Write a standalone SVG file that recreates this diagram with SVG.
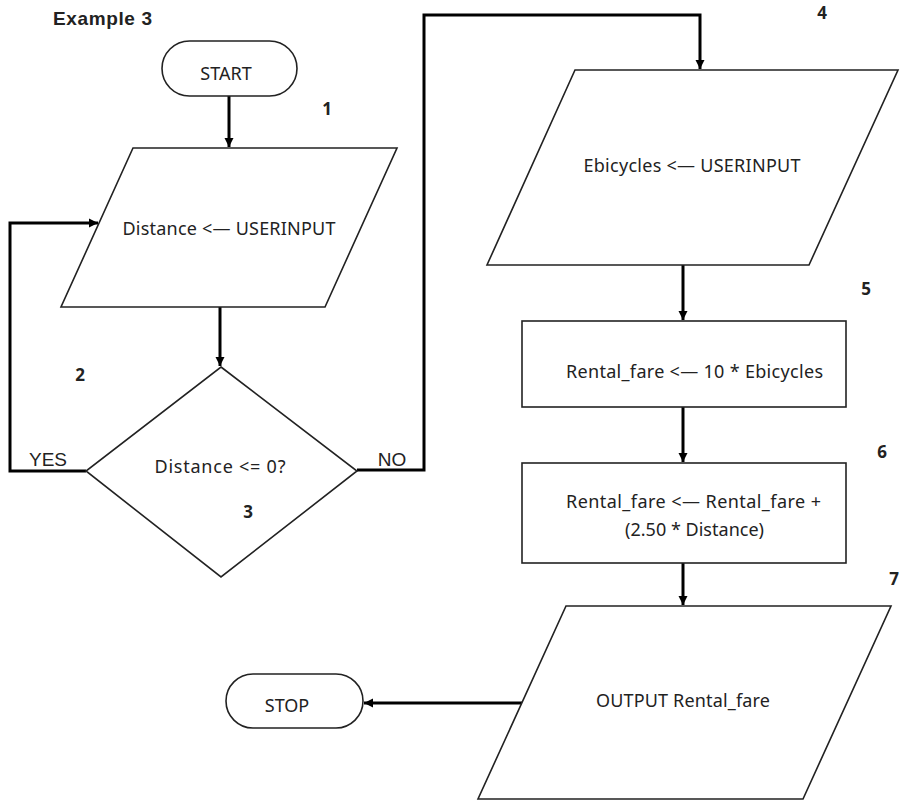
<svg xmlns="http://www.w3.org/2000/svg" width="900" height="801" viewBox="0 0 900 801">
<style>
.shape{fill:#fff;stroke:#222;stroke-width:1.6}
.conn{fill:none;stroke:#000;stroke-width:3}
.t{font-family:"Noto Sans","Open Sans","DejaVu Sans",sans-serif;font-size:18px;fill:#222;text-anchor:middle}
.n{font-family:"Noto Sans","Open Sans","DejaVu Sans",sans-serif;font-size:17px;font-weight:bold;fill:#222;text-anchor:middle}
.a{font-family:"Liberation Sans",Arial,sans-serif;font-size:19px;fill:#222;text-anchor:middle}
.title{font-family:"Liberation Sans",Arial,sans-serif;font-size:19px;font-weight:bold;fill:#222}
</style>
<defs>
<marker id="arr" markerUnits="userSpaceOnUse" markerWidth="10" markerHeight="10" refX="9" refY="5" orient="auto">
<path d="M0,0.5 L9,5 L0,9.5 z" fill="#000"/>
</marker>
</defs>
<rect width="900" height="801" fill="#fff"/>
<text class="title" x="53" y="25" textLength="99">Example 3</text>

<g id="connectors">
<path class="conn" d="M229,96 V147" marker-end="url(#arr)"/>
<path class="conn" d="M220,307 V366" marker-end="url(#arr)"/>
<path class="conn" d="M86,471 H10 V223 H98" marker-end="url(#arr)"/>
<path class="conn" d="M357,470 H424 V15 H700 V69" marker-end="url(#arr)"/>
<path class="conn" d="M683,265 V320" marker-end="url(#arr)"/>
<path class="conn" d="M683,407 V462" marker-end="url(#arr)"/>
<path class="conn" d="M683,563 V605" marker-end="url(#arr)"/>
<path class="conn" d="M522,703 H364" marker-end="url(#arr)"/>
<text class="a" x="48" y="466">YES</text>
<text class="a" x="392" y="466">NO</text>
</g>

<g id="start">
<rect class="shape" x="162" y="41" width="135" height="55" rx="27.5"/>
<text class="t" x="226" y="80">START</text>
</g>

<g id="step1">
<polygon class="shape" points="133,148 397,148 325,307 61,307"/>
<text class="t" x="229" y="235" textLength="213">Distance &lt;— USERINPUT</text>
<text class="n" x="327" y="115">1</text>
</g>

<g id="label2">
<text class="n" x="80" y="381">2</text>
</g>

<g id="decision">
<polygon class="shape" points="221,367 357,471 221,577 86,471"/>
<text class="t" x="220" y="473" textLength="131">Distance &lt;= 0?</text>
<text class="n" x="248" y="518">3</text>
</g>

<g id="step4">
<polygon class="shape" points="575,70 898,70 809,265 487,265"/>
<text class="t" x="692" y="172" textLength="217">Ebicycles &lt;— USERINPUT</text>
<text class="n" x="822" y="19">4</text>
</g>

<g id="step5">
<rect class="shape" x="522" y="321" width="324" height="86"/>
<text class="t" x="694.5" y="378" textLength="257">Rental_fare &lt;— 10 * Ebicycles</text>
<text class="n" x="866" y="295">5</text>
</g>

<g id="step6">
<rect class="shape" x="522" y="463" width="324" height="100"/>
<text class="t" x="693.5" y="508" textLength="255">Rental_fare &lt;— Rental_fare +</text>
<text class="t" x="694.5" y="536" textLength="139">(2.50 * Distance)</text>
<text class="n" x="882" y="458">6</text>
</g>

<g id="step7">
<polygon class="shape" points="566,606 891,606 803,799 478,799"/>
<text class="t" x="683" y="707" textLength="174">OUTPUT Rental_fare</text>
<text class="n" x="894" y="585">7</text>
</g>

<g id="stop">
<rect class="shape" x="226" y="674" width="137" height="54" rx="27"/>
<text class="t" x="287" y="712">STOP</text>
</g>
</svg>
